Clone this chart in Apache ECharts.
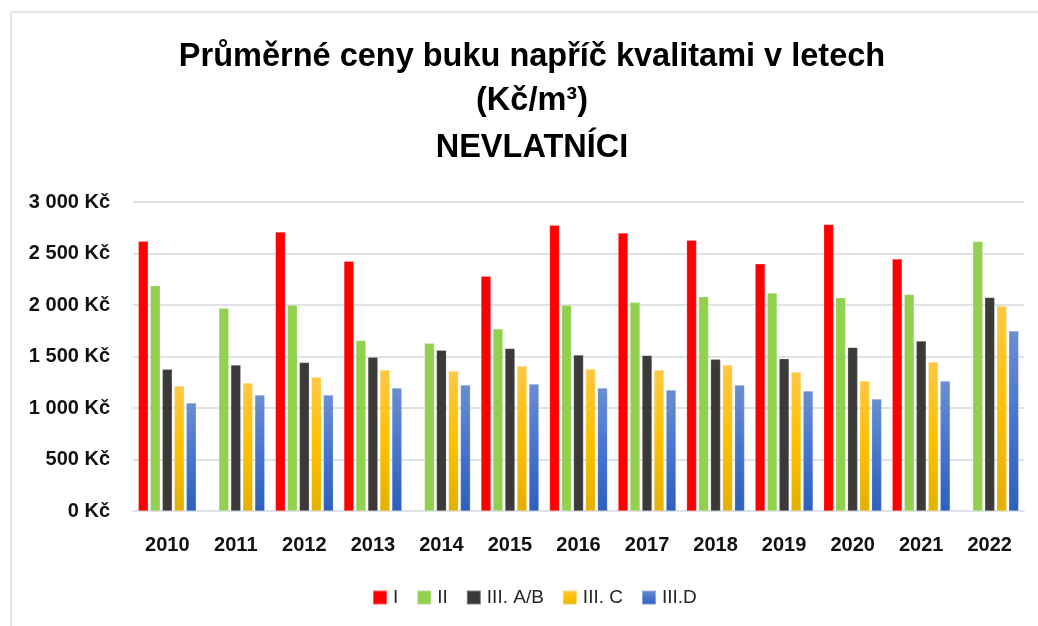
<!DOCTYPE html>
<html>
<head>
<meta charset="utf-8">
<script src="https://cdn.jsdelivr.net/npm/echarts@6/dist/echarts.min.js"></script>
<style>
html,body{margin:0;padding:0;background:#fff;}
#frame{position:absolute;left:10px;top:11px;width:1100px;height:700px;border-left:2px solid #e1e6ec;border-top:2px solid #e1e6ec;}
#chart{position:absolute;left:0;top:0;width:1038px;height:626px;}
</style>
</head>
<body>
<div id="frame"></div>
<div id="chart"></div>
<script>
const categories = ['2010','2011','2012','2013','2014','2015','2016','2017','2018','2019','2020','2021','2022'];
const seriesNames = ['I','II','III. A/B','III. C','III.D'];
const valuesI   = [2620, null, 2710, 2425, null, 2280, 2775, 2700, 2628, 2400, 2783, 2447, null];
const valuesII  = [2187, 1968, 1997, 1657, 1628, 1767, 1997, 2026, 2081, 2117, 2071, 2103, 2618];
const valuesAB  = [1376, 1417, 1443, 1492, 1560, 1579, 1515, 1511, 1473, 1479, 1589, 1650, 2074];
const valuesC   = [1214, 1243, 1301, 1369, 1359, 1408, 1379, 1369, 1417, 1350, 1262, 1447, 1990];
const valuesD   = [1049, 1126, 1126, 1194, 1223, 1233, 1194, 1175, 1223, 1165, 1087, 1262, 1748];
const yMin = 0, yMax = 3000, yStep = 500;
const titleLines = ['Průměrné ceny buku napříč kvalitami v letech', '(Kč/m³)', 'NEVLATNÍCI'];

const chart = echarts.init(document.getElementById('chart'), null, {renderer:'canvas'});
const font = 'Liberation Sans, Arial, sans-serif';
const grad = (top, mid, bot) => new echarts.graphic.LinearGradient(0,0,0,1,[
  {offset:0,color:top},{offset:0.5,color:mid},{offset:1,color:bot}]);
const colors = [
  '#ff0000',
  '#92d050',
  '#3b3a38',
  grad('#ffc845','#ffc000','#e3b000'),
  grad('#6a8ed0','#4874cc','#2d60bd')
];
const dataSets = [valuesI, valuesII, valuesAB, valuesC, valuesD];
const fmt = v => String(v).replace(/\B(?=(\d{3})+(?!\d))/g, ' ') + ' Kč';

const titleTops = [39, 83, 130];
chart.setOption({
  animation:false,
  title: titleLines.map((t,i)=>({
    text:t, left:532, textAlign:'center', top:titleTops[i], padding:0,
    textStyle:{fontFamily:font, fontWeight:'bold', fontSize:32.5, color:'#000', lineHeight:36}
  })),
  legend:{
    data:seriesNames, left:372, top:588, padding:0, itemWidth:14, itemHeight:14, itemGap:18,
    icon:'rect',
    textStyle:{fontFamily:font, fontSize:19, color:'#262626', padding:[0,0,0,1]}
  },
  grid:{left:133, right:14, top:202, bottom:115, containLabel:false},
  xAxis:{
    type:'category', data:categories,
    axisLine:{show:true, lineStyle:{color:'#dfe3e8', width:2}},
    axisTick:{show:false},
    axisLabel:{fontFamily:font, fontWeight:'bold', fontSize:20, color:'#111', margin:24}
  },
  yAxis:{
    type:'value', min:yMin, max:yMax, interval:yStep,
    axisLine:{show:false}, axisTick:{show:false},
    splitLine:{lineStyle:{color:'#dfe3e8', width:2}},
    axisLabel:{fontFamily:font, fontWeight:'bold', fontSize:20, color:'#111', margin:23, formatter:fmt}
  },
  series: seriesNames.map((n,i)=>({
    name:n, type:'bar', data:dataSets[i], barWidth:10, barGap:'20%',
    itemStyle:{color:colors[i], borderColor:'rgba(255,255,255,0.35)', borderWidth:0.6}
  }))
});
</script>
</body>
</html>
